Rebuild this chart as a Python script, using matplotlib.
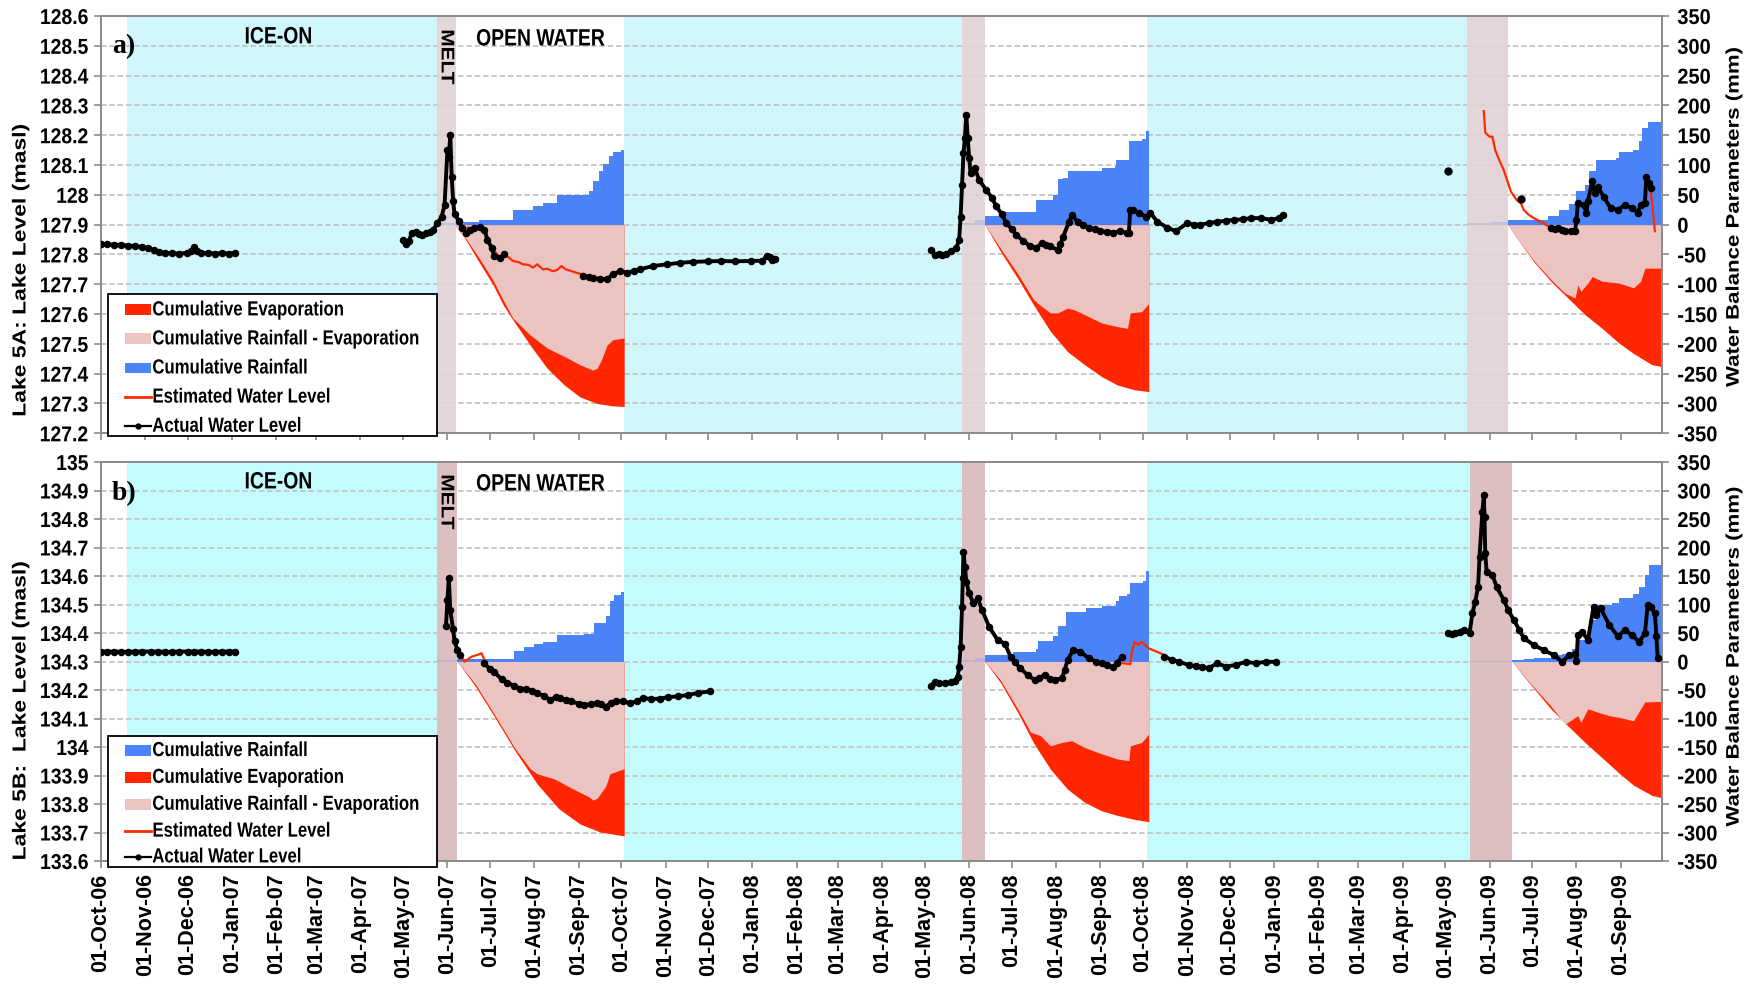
import numpy as np
import pandas as pd
import matplotlib
matplotlib.use("Agg")
import matplotlib.pyplot as plt
import matplotlib.dates as mdates
from matplotlib.patches import Rectangle
from matplotlib.patheffects import AbstractPathEffect
from matplotlib.transforms import Affine2D
from matplotlib.ticker import FixedLocator, FuncFormatter

NAN = float("nan")

# ---------------------------------------------------------------- Lake 5A
# lake level (masl), actual observations
a_level = [
    ("2006-10-01", 127.835), ("2006-10-05", 127.834), ("2006-10-10", 127.833), ("2006-10-15", 127.832),
    ("2006-10-20", 127.830), ("2006-10-25", 127.828), ("2006-10-30", 127.825), ("2006-11-03", 127.820),
    ("2006-11-07", 127.815), ("2006-11-11", 127.808), ("2006-11-15", 127.805), ("2006-11-20", 127.804),
    ("2006-11-25", 127.803), ("2006-11-30", 127.805), ("2006-12-03", 127.812), ("2006-12-05", 127.825),
    ("2006-12-07", 127.810), ("2006-12-10", 127.804), ("2006-12-15", 127.805), ("2006-12-20", 127.803),
    ("2006-12-25", 127.805), ("2006-12-30", 127.803), ("2007-01-03", 127.805),
    ("2007-02-15", NAN),
    ("2007-05-01", 127.850), ("2007-05-03", 127.834), ("2007-05-05", 127.845), ("2007-05-07", 127.872),
    ("2007-05-10", 127.877), ("2007-05-12", 127.870), ("2007-05-14", 127.866), ("2007-05-17", 127.872),
    ("2007-05-20", 127.876), ("2007-05-22", 127.883), ("2007-05-25", 127.905), ("2007-05-28", 127.927),
    ("2007-05-30", 127.966), ("2007-06-01", 128.150), ("2007-06-02", 128.127), ("2007-06-03", 128.200),
    ("2007-06-04", 128.060), ("2007-06-05", 127.980), ("2007-06-06", 127.935), ("2007-06-09", 127.913),
    ("2007-06-11", 127.890), ("2007-06-14", 127.872), ("2007-06-17", 127.883), ("2007-06-20", 127.888),
    ("2007-06-24", 127.893), ("2007-06-27", 127.883), ("2007-06-29", 127.850), ("2007-07-02", 127.822),
    ("2007-07-04", 127.794), ("2007-07-08", 127.789), ("2007-07-11", 127.800),
    ("2007-08-01", NAN),
    ("2007-09-04", 127.728), ("2007-09-08", 127.724), ("2007-09-11", 127.720), ("2007-09-16", 127.718),
    ("2007-09-21", 127.717), ("2007-09-25", 127.733), ("2007-09-30", 127.744), ("2007-10-05", 127.739),
    ("2007-10-10", 127.745), ("2007-10-14", 127.750), ("2007-10-23", 127.761), ("2007-11-02", 127.767),
    ("2007-11-11", 127.772), ("2007-11-20", 127.775), ("2007-12-01", 127.777), ("2007-12-10", 127.778),
    ("2007-12-20", 127.777), ("2007-12-31", 127.778), ("2008-01-08", 127.779), ("2008-01-11", 127.795),
    ("2008-01-13", 127.790), ("2008-01-15", 127.782), ("2008-01-17", 127.785),
    ("2008-03-01", NAN),
    ("2008-05-05", 127.815), ("2008-05-08", 127.798), ("2008-05-11", 127.800), ("2008-05-13", 127.798),
    ("2008-05-16", 127.803), ("2008-05-19", 127.810), ("2008-05-23", 127.822), ("2008-05-25", 127.850),
    ("2008-05-26", 127.927), ("2008-05-27", 128.033), ("2008-05-28", 128.139), ("2008-05-29", 128.190),
    ("2008-05-30", 128.268), ("2008-05-31", 128.190), ("2008-06-01", 128.122), ("2008-06-02", 128.072),
    ("2008-06-05", 128.089), ("2008-06-08", 128.050), ("2008-06-13", 128.016), ("2008-06-17", 127.990),
    ("2008-06-20", 127.961), ("2008-06-24", 127.935), ("2008-06-27", 127.905), ("2008-07-01", 127.885),
    ("2008-07-04", 127.866), ("2008-07-09", 127.845), ("2008-07-14", 127.827), ("2008-07-18", 127.822),
    ("2008-07-22", 127.839), ("2008-07-25", 127.832), ("2008-07-28", 127.827), ("2008-08-02", 127.815),
    ("2008-08-04", 127.835), ("2008-08-06", 127.860), ("2008-08-10", 127.910), ("2008-08-12", 127.932),
    ("2008-08-16", 127.910), ("2008-08-20", 127.898), ("2008-08-24", 127.890), ("2008-08-28", 127.884),
    ("2008-09-01", 127.878), ("2008-09-06", 127.876), ("2008-09-10", 127.873), ("2008-09-15", 127.878),
    ("2008-09-20", 127.872), ("2008-09-21", 127.872), ("2008-09-22", 127.950), ("2008-09-24", 127.950),
    ("2008-09-28", 127.940), ("2008-10-03", 127.927), ("2008-10-06", 127.940), ("2008-10-11", 127.910),
    ("2008-10-18", 127.890), ("2008-10-24", 127.878), ("2008-11-01", 127.905), ("2008-11-06", 127.900),
    ("2008-11-10", 127.900), ("2008-11-16", 127.905), ("2008-11-22", 127.910), ("2008-11-28", 127.913),
    ("2008-12-04", 127.916), ("2008-12-10", 127.918), ("2008-12-16", 127.922), ("2008-12-23", 127.922),
    ("2008-12-30", 127.916), ("2009-01-04", 127.922), ("2009-01-07", 127.932),
    ("2009-03-01", NAN),
    ("2009-07-14", 127.888), ("2009-07-17", 127.885), ("2009-07-19", 127.888), ("2009-07-22", 127.882),
    ("2009-07-24", 127.878), ("2009-07-28", 127.878), ("2009-07-31", 127.878), ("2009-08-01", 127.916),
    ("2009-08-02", 127.972), ("2009-08-06", 127.967), ("2009-08-08", 127.940), ("2009-08-09", 127.978),
    ("2009-08-12", 128.045), ("2009-08-14", 128.005), ("2009-08-16", 128.027), ("2009-08-20", 127.994),
    ("2009-08-25", 127.955), ("2009-08-30", 127.950), ("2009-09-04", 127.966), ("2009-09-09", 127.955),
    ("2009-09-13", 127.940), ("2009-09-15", 127.966), ("2009-09-18", 127.972), ("2009-09-19", 128.060),
    ("2009-09-21", 128.039), ("2009-09-22", 128.022),
]
# isolated single readings
a_level_single = [("2009-05-03", 128.081), ("2009-06-23", 127.986)]

# lake level (masl), estimated from the water balance
a_est = [
    ("2007-05-25", 127.905), ("2007-05-28", 127.927), ("2007-05-30", 127.966), ("2007-06-01", 128.150),
    ("2007-06-02", 128.127), ("2007-06-03", 128.200), ("2007-06-04", 128.060), ("2007-06-05", 127.980),
    ("2007-06-06", 127.935), ("2007-06-11", 127.890), ("2007-06-20", 127.888), ("2007-06-27", 127.883),
    ("2007-07-02", 127.822), ("2007-07-08", 127.789), ("2007-07-11", 127.800), ("2007-07-14", 127.790),
    ("2007-07-17", 127.778), ("2007-07-21", 127.774), ("2007-07-24", 127.767), ("2007-07-28", 127.765),
    ("2007-07-31", 127.756), ("2007-08-03", 127.767), ("2007-08-07", 127.750), ("2007-08-10", 127.752),
    ("2007-08-14", 127.744), ("2007-08-17", 127.748), ("2007-08-20", 127.761), ("2007-08-23", 127.750),
    ("2007-08-27", 127.744), ("2007-08-31", 127.738), ("2007-09-04", 127.733),
    ("2008-01-01", NAN),
    ("2008-05-25", 127.850), ("2008-05-26", 127.927), ("2008-05-27", 128.033), ("2008-05-28", 128.139),
    ("2008-05-29", 128.190), ("2008-05-30", 128.268), ("2008-05-31", 128.190), ("2008-06-01", 128.122),
    ("2008-06-02", 128.072),
    ("2008-07-01", NAN),
    ("2008-08-02", 127.815), ("2008-08-04", 127.835), ("2008-08-06", 127.860), ("2008-08-10", 127.910),
    ("2008-08-12", 127.932),
    ("2008-09-01", NAN),
    ("2008-09-20", 127.872), ("2008-09-21", 127.872), ("2008-09-22", 127.950),
    ("2009-01-01", NAN),
    ("2009-05-28", 128.281), ("2009-05-29", 128.209), ("2009-06-01", 128.195), ("2009-06-03", 128.195),
    ("2009-06-05", 128.150), ("2009-06-08", 128.115), ("2009-06-11", 128.083), ("2009-06-16", 128.011),
    ("2009-06-20", 127.983), ("2009-06-23", 127.972), ("2009-06-25", 127.950), ("2009-06-28", 127.935),
    ("2009-07-02", 127.922), ("2009-07-09", 127.905), ("2009-07-14", 127.888),
    ("2009-07-25", NAN),
    ("2009-07-31", 127.878), ("2009-08-01", 127.916), ("2009-08-02", 127.972),
    ("2009-08-20", NAN),
    ("2009-09-21", 128.039), ("2009-09-22", 128.022), ("2009-09-25", 127.878),
]

# cumulative rainfall (mm), one list per open-water season
a_rain = [
    [("2007-05-25", 3), ("2007-06-08", 4), ("2007-06-23", 8), ("2007-07-17", 24), ("2007-07-31", 31),
     ("2007-08-07", 36), ("2007-08-17", 50), ("2007-09-08", 56), ("2007-09-11", 73), ("2007-09-15", 90),
     ("2007-09-18", 101), ("2007-09-22", 115), ("2007-09-25", 122), ("2007-10-01", 126), ("2007-10-03", 126)],
    [("2008-05-27", 3), ("2008-06-05", 8), ("2008-06-12", 14), ("2008-06-26", 21), ("2008-07-18", 42),
     ("2008-07-30", 50), ("2008-08-02", 76), ("2008-08-06", 78), ("2008-08-09", 90), ("2008-09-02", 95),
     ("2008-09-11", 98), ("2008-09-12", 109), ("2008-09-21", 140), ("2008-09-30", 143), ("2008-10-03", 157),
     ("2008-10-05", 165)],
    [("2009-05-16", 3), ("2009-06-01", 5), ("2009-06-14", 7), ("2009-07-12", 14), ("2009-07-20", 25),
     ("2009-07-27", 34), ("2009-08-01", 56), ("2009-08-07", 67), ("2009-08-10", 90), ("2009-08-15", 108),
     ("2009-08-29", 112), ("2009-08-31", 122), ("2009-09-10", 126), ("2009-09-14", 140), ("2009-09-16", 162),
     ("2009-09-20", 173), ("2009-09-30", 178)],
]
# cumulative evaporation (mm, plotted negative)
a_evap = [
    [("2007-06-06", 0), ("2007-06-13", -22), ("2007-06-23", -62), ("2007-07-03", -101), ("2007-07-10", -134),
     ("2007-07-17", -160), ("2007-07-29", -202), ("2007-08-10", -241), ("2007-08-22", -269),
     ("2007-09-02", -289), ("2007-09-14", -300), ("2007-09-25", -304), ("2007-10-03", -305)],
    [("2008-06-12", 0), ("2008-06-23", -45), ("2008-07-05", -90), ("2008-07-16", -134), ("2008-07-28", -179),
     ("2008-08-09", -213), ("2008-08-21", -235), ("2008-09-02", -255), ("2008-09-13", -269),
     ("2008-09-25", -277), ("2008-10-05", -280)],
    [("2009-06-14", 0), ("2009-06-20", -22), ("2009-07-02", -62), ("2009-07-14", -95), ("2009-07-26", -123),
     ("2009-08-07", -151), ("2009-08-19", -174), ("2009-08-31", -199), ("2009-09-10", -216),
     ("2009-09-23", -235), ("2009-09-30", -238)],
]
# cumulative rainfall - evaporation (mm)
a_balance = [
    [("2007-06-06", 0), ("2007-06-13", -20), ("2007-06-23", -55), ("2007-07-03", -93), ("2007-07-10", -126),
     ("2007-07-17", -157), ("2007-07-29", -185), ("2007-08-10", -207), ("2007-08-22", -221),
     ("2007-09-02", -235), ("2007-09-11", -244), ("2007-09-14", -241), ("2007-09-17", -227),
     ("2007-09-21", -202), ("2007-09-25", -193), ("2007-10-03", -190)],
    [("2008-06-12", 0), ("2008-06-23", -40), ("2008-07-05", -82), ("2008-07-16", -125), ("2008-07-19", -132),
     ("2008-07-28", -148), ("2008-08-02", -148), ("2008-08-09", -140), ("2008-08-14", -143),
     ("2008-08-21", -151), ("2008-09-02", -165), ("2008-09-13", -171), ("2008-09-20", -174),
     ("2008-09-22", -148), ("2008-09-30", -146), ("2008-10-05", -132)],
    [("2009-06-14", 0), ("2009-06-20", -22), ("2009-07-02", -60), ("2009-07-14", -92), ("2009-07-24", -115),
     ("2009-07-31", -123), ("2009-08-02", -101), ("2009-08-04", -112), ("2009-08-09", -98),
     ("2009-08-12", -87), ("2009-08-19", -95), ("2009-08-31", -98), ("2009-09-10", -106),
     ("2009-09-15", -95), ("2009-09-18", -73), ("2009-09-30", -73)],
]
a_ice_on = [("2006-10-19", "2007-05-25"), ("2007-10-03", "2008-05-27"), ("2008-10-04", "2009-05-16")]
a_melt = [("2007-05-25", "2007-06-07"), ("2008-05-27", "2008-06-12"), ("2009-05-16", "2009-06-14")]

# ---------------------------------------------------------------- Lake 5B
b_level = [
    ("2006-10-01", 134.335), ("2006-10-05", 134.335), ("2006-10-10", 134.335), ("2006-10-15", 134.334),
    ("2006-10-20", 134.334), ("2006-10-25", 134.335), ("2006-10-30", 134.335), ("2006-11-05", 134.335),
    ("2006-11-10", 134.335), ("2006-11-15", 134.334), ("2006-11-20", 134.334), ("2006-11-25", 134.335),
    ("2006-12-01", 134.335), ("2006-12-05", 134.335), ("2006-12-10", 134.335), ("2006-12-15", 134.334),
    ("2006-12-20", 134.334), ("2006-12-25", 134.335), ("2006-12-30", 134.335), ("2007-01-03", 134.335),
    ("2007-03-01", NAN),
    ("2007-05-31", 134.425), ("2007-06-01", 134.515), ("2007-06-02", 134.593), ("2007-06-03", 134.479),
    ("2007-06-05", 134.413), ("2007-06-06", 134.371), ("2007-06-08", 134.341), ("2007-06-10", 134.323),
    ("2007-06-18", NAN),
    ("2007-06-27", 134.293), ("2007-07-01", 134.272), ("2007-07-04", 134.262), ("2007-07-09", 134.238),
    ("2007-07-13", 134.226), ("2007-07-18", 134.214), ("2007-07-22", 134.205), ("2007-07-26", 134.202),
    ("2007-07-30", 134.198), ("2007-08-03", 134.190), ("2007-08-08", 134.178), ("2007-08-12", 134.166),
    ("2007-08-16", 134.175), ("2007-08-19", 134.172), ("2007-08-23", 134.165), ("2007-08-27", 134.160),
    ("2007-09-01", 134.152), ("2007-09-05", 134.148), ("2007-09-10", 134.150), ("2007-09-14", 134.154),
    ("2007-09-17", 134.150), ("2007-09-20", 134.142), ("2007-09-24", 134.155), ("2007-09-27", 134.160),
    ("2007-10-02", 134.160), ("2007-10-07", 134.154), ("2007-10-12", 134.160), ("2007-10-16", 134.172),
    ("2007-10-22", 134.168), ("2007-10-28", 134.170), ("2007-11-03", 134.175), ("2007-11-10", 134.178),
    ("2007-11-17", 134.183), ("2007-11-24", 134.190), ("2007-12-02", 134.195),
    ("2008-02-01", NAN),
    ("2008-05-05", 134.214), ("2008-05-08", 134.229), ("2008-05-11", 134.225), ("2008-05-15", 134.223),
    ("2008-05-19", 134.228), ("2008-05-22", 134.233), ("2008-05-24", 134.247), ("2008-05-25", 134.282),
    ("2008-05-26", 134.352), ("2008-05-27", 134.492), ("2008-05-27 12:00", 134.592), ("2008-05-28", 134.685),
    ("2008-05-29", 134.633), ("2008-05-30", 134.580), ("2008-06-01", 134.539), ("2008-06-04", 134.504),
    ("2008-06-07", 134.522), ("2008-06-10", 134.481), ("2008-06-15", 134.422), ("2008-06-21", 134.375),
    ("2008-06-26", 134.363), ("2008-06-30", 134.317), ("2008-07-03", 134.298), ("2008-07-07", 134.276),
    ("2008-07-12", 134.252), ("2008-07-17", 134.235), ("2008-07-20", 134.242), ("2008-07-24", 134.253),
    ("2008-07-28", 134.240), ("2008-07-31", 134.235), ("2008-08-05", 134.241), ("2008-08-07", 134.270),
    ("2008-08-09", 134.305), ("2008-08-13", 134.340), ("2008-08-18", 134.334), ("2008-08-24", 134.311),
    ("2008-08-29", 134.300), ("2008-09-02", 134.294), ("2008-09-06", 134.287), ("2008-09-10", 134.280),
    ("2008-09-13", 134.294), ("2008-09-16", 134.317),
    ("2008-09-30", NAN),
    ("2008-10-16", 134.317), ("2008-10-21", 134.306), ("2008-10-26", 134.299), ("2008-11-02", 134.288),
    ("2008-11-07", 134.284), ("2008-11-11", 134.282), ("2008-11-16", 134.276), ("2008-11-22", 134.294),
    ("2008-11-28", 134.282), ("2008-12-05", 134.288), ("2008-12-12", 134.299), ("2008-12-19", 134.294),
    ("2008-12-26", 134.299), ("2009-01-02", 134.299),
    ("2009-03-01", NAN),
    ("2009-05-03", 134.401), ("2009-05-06", 134.396), ("2009-05-08", 134.400), ("2009-05-11", 134.404),
    ("2009-05-14", 134.410), ("2009-05-18", 134.399), ("2009-05-20", 134.469), ("2009-05-22", 134.510),
    ("2009-05-24", 134.562), ("2009-05-25", 134.668), ("2009-05-27", 134.826), ("2009-05-28", 134.884),
    ("2009-05-28 12:00", 134.808), ("2009-05-29", 134.680), ("2009-05-30", 134.615), ("2009-06-03", 134.604),
    ("2009-06-06", 134.562), ("2009-06-11", 134.516), ("2009-06-14", 134.482), ("2009-06-18", 134.446),
    ("2009-06-22", 134.410), ("2009-06-25", 134.382), ("2009-07-02", 134.358), ("2009-07-09", 134.340),
    ("2009-07-16", 134.323), ("2009-07-22", 134.299), ("2009-07-27", 134.323), ("2009-07-31", 134.326),
    ("2009-08-01", 134.303), ("2009-08-02", 134.392), ("2009-08-05", 134.404), ("2009-08-09", 134.375),
    ("2009-08-13", 134.492), ("2009-08-15", 134.463), ("2009-08-18", 134.487), ("2009-08-24", 134.428),
    ("2009-08-30", 134.389), ("2009-09-04", 134.410), ("2009-09-09", 134.392), ("2009-09-14", 134.369),
    ("2009-09-18", 134.399), ("2009-09-20", 134.498), ("2009-09-22", 134.492), ("2009-09-25", 134.469),
    ("2009-09-26", 134.389), ("2009-09-27", 134.313),
]
b_level_single = []

b_est = [
    ("2007-06-10", 134.323), ("2007-06-13", 134.299), ("2007-06-16", 134.310), ("2007-06-18", 134.317),
    ("2007-06-22", 134.323), ("2007-06-25", 134.329), ("2007-06-27", 134.305),
    ("2008-01-01", NAN),
    ("2008-09-13", 134.294), ("2008-09-17", 134.294), ("2008-09-22", 134.291), ("2008-09-23", 134.329),
    ("2008-09-25", 134.369), ("2008-09-28", 134.358), ("2008-09-30", 134.369), ("2008-10-05", 134.346),
    ("2008-10-16", 134.323),
    ("2009-01-01", NAN),
    ("2009-05-18", 134.399), ("2009-05-20", 134.469), ("2009-05-22", 134.510), ("2009-05-24", 134.562),
    ("2009-05-25", 134.668), ("2009-05-27", 134.826), ("2009-05-28", 134.884), ("2009-05-29", 134.680),
    ("2009-05-30", 134.615),
    ("2009-07-01", NAN),
    ("2009-07-31", 134.326), ("2009-08-01", 134.303), ("2009-08-02", 134.392),
    ("2009-08-20", NAN),
    ("2009-09-18", 134.399), ("2009-09-20", 134.498),
    ("2009-09-23", NAN),
    ("2009-09-25", 134.469), ("2009-09-26", 134.389), ("2009-09-27", 134.313),
]

b_rain = [
    [("2007-05-25", 2), ("2007-06-08", 4), ("2007-07-18", 19), ("2007-07-25", 26), ("2007-08-01", 31),
     ("2007-08-07", 34), ("2007-08-17", 46), ("2007-09-05", 49), ("2007-09-12", 67), ("2007-09-20", 79),
     ("2007-09-23", 107), ("2007-09-26", 116), ("2007-10-01", 122), ("2007-10-03", 122)],
    [("2008-05-27", 3), ("2008-06-05", 7), ("2008-06-12", 11), ("2008-07-02", 17), ("2008-07-18", 22),
     ("2008-07-19", 36), ("2008-07-30", 45), ("2008-08-02", 62), ("2008-08-08", 86), ("2008-08-22", 93),
     ("2008-09-02", 98), ("2008-09-12", 106), ("2008-09-14", 115), ("2008-09-20", 118), ("2008-09-22", 138),
     ("2008-10-01", 141), ("2008-10-03", 159), ("2008-10-05", 159)],
    [("2009-05-18", 1), ("2009-06-17", 2), ("2009-06-25", 4), ("2009-07-02", 6), ("2009-07-14", 11),
     ("2009-07-22", 14), ("2009-07-29", 22), ("2009-08-01", 37), ("2009-08-07", 46), ("2009-08-10", 73),
     ("2009-08-15", 100), ("2009-08-26", 103), ("2009-08-31", 112), ("2009-09-10", 118), ("2009-09-14", 130),
     ("2009-09-18", 151), ("2009-09-21", 169), ("2009-09-30", 172)],
]
b_evap = [
    [("2007-06-08", 0), ("2007-06-21", -45), ("2007-07-05", -101), ("2007-07-18", -155), ("2007-08-03", -215),
     ("2007-08-18", -258), ("2007-09-02", -285), ("2007-09-16", -299), ("2007-10-03", -306)],
    [("2008-06-12", 0), ("2008-06-23", -37), ("2008-07-05", -89), ("2008-07-16", -142), ("2008-07-28", -189),
     ("2008-08-09", -224), ("2008-08-21", -247), ("2008-09-02", -262), ("2008-09-13", -270),
     ("2008-09-25", -277), ("2008-10-05", -281)],
    [("2009-06-17", 0), ("2009-06-25", -26), ("2009-07-02", -47), ("2009-07-14", -83), ("2009-07-26", -113),
     ("2009-08-07", -142), ("2009-08-19", -169), ("2009-08-31", -196), ("2009-09-10", -217),
     ("2009-09-23", -235), ("2009-09-30", -239)],
]
b_balance = [
    [("2007-06-08", 0), ("2007-06-21", -41), ("2007-07-05", -97), ("2007-07-18", -151), ("2007-07-29", -188),
     ("2007-08-03", -197), ("2007-08-15", -206), ("2007-08-27", -222), ("2007-09-08", -237),
     ("2007-09-11", -243), ("2007-09-14", -240), ("2007-09-20", -219), ("2007-09-23", -197),
     ("2007-10-03", -188)],
    [("2008-06-12", 0), ("2008-06-23", -33), ("2008-07-05", -83), ("2008-07-14", -124), ("2008-07-21", -130),
     ("2008-07-28", -148), ("2008-08-05", -142), ("2008-08-12", -139), ("2008-08-21", -151),
     ("2008-09-02", -162), ("2008-09-13", -171), ("2008-09-21", -174), ("2008-09-22", -148),
     ("2008-09-30", -142), ("2008-10-05", -127)],
    [("2009-06-17", 0), ("2009-06-25", -25), ("2009-07-02", -45), ("2009-07-14", -78), ("2009-07-24", -110),
     ("2009-08-02", -95), ("2009-08-04", -107), ("2009-08-09", -83), ("2009-08-16", -89),
     ("2009-08-24", -95), ("2009-08-31", -98), ("2009-09-10", -104), ("2009-09-15", -83),
     ("2009-09-18", -71), ("2009-09-30", -70)],
]
b_ice_on = [("2006-10-19", "2007-05-25"), ("2007-10-03", "2008-05-27"), ("2008-10-04", "2009-05-18")]
b_melt = [("2007-05-25", "2007-06-08"), ("2008-05-27", "2008-06-12"), ("2009-05-18", "2009-06-17")]

a_level_ticks = [round(127.2 + 0.1 * i, 1) for i in range(15)]
b_level_ticks = [round(133.6 + 0.1 * i, 1) for i in range(15)]
balance_ticks = list(range(-350, 351, 50))

# ---------------------------------------------------------------- style
BLUE = "#4A82F7"
RED = "#FF2600"
PINK = "#EBC3C1"
EST_RED = "#FF2A00"
GRID = "#C4C4C4"
SPINE = "#8C8C8C"

plt.rcParams["font.family"] = ["Liberation Sans", "DejaVu Sans"]
plt.rcParams["font.weight"] = "bold"


class Squeeze(AbstractPathEffect):
    """Draw text narrower (sx) or thinner (sy) than the font's own metrics."""

    def __init__(self, sx=1.0, sy=1.0, anchor="left"):
        super().__init__()
        self._sx, self._sy, self._anchor = sx, sy, anchor

    def draw_path(self, renderer, gc, tpath, affine, rgbFace=None):
        ext = tpath.get_extents()
        if self._anchor == "left":
            cx = ext.x0
        elif self._anchor == "right":
            cx = ext.x1
        else:
            cx = 0.5 * (ext.x0 + ext.x1)
        cy = 0.5 * (ext.y0 + ext.y1)
        t = Affine2D().translate(-cx, -cy).scale(self._sx, self._sy).translate(cx, cy) + affine
        renderer.draw_path(gc, tpath, t, rgbFace)


def series(pairs):
    dates = pd.to_datetime([p[0] for p in pairs], format="ISO8601")
    return dates, np.array([p[1] for p in pairs], dtype=float)


def level_fmt(v, _):
    s = f"{v:.1f}"
    return s[:-2] if s.endswith(".0") else s


LEGEND_ITEMS = {
    "rain": ("patch", BLUE, "Cumulative Rainfall"),
    "evap": ("patch", RED, "Cumulative Evaporation"),
    "bal": ("patch", PINK, "Cumulative Rainfall - Evaporation"),
    "est": ("line", EST_RED, "Estimated Water Level"),
    "act": ("marker", "black", "Actual Water Level"),
}


def draw_legend(ax, order, box, rows, patch_h):
    x0, y0, x1, y1 = box
    tr = ax.transAxes
    ax.add_patch(Rectangle((x0, y0), x1 - x0, y1 - y0, transform=tr, facecolor="white",
                           edgecolor="black", lw=1.3, clip_on=False, zorder=10))
    hx0, hx1, tx = 0.0156, 0.0318, 0.0328
    for key, y in zip(order, rows):
        kind, color, label = LEGEND_ITEMS[key]
        if kind == "patch":
            ax.add_patch(Rectangle((hx0, y - patch_h / 2), hx1 - hx0, patch_h, transform=tr,
                                   facecolor=color, edgecolor="none", clip_on=False, zorder=11))
        elif kind == "line":
            ax.plot([hx0, hx1], [y, y], transform=tr, color=color, lw=2, clip_on=False, zorder=11)
        else:
            ax.plot([hx0, hx1], [y, y], transform=tr, color=color, lw=1.6, clip_on=False, zorder=11)
            ax.plot([(hx0 + hx1) / 2], [y], transform=tr, color=color, marker="o", ms=3.5,
                    clip_on=False, zorder=11)
        ax.text(tx, y, label, transform=tr, ha="left", va="center", fontsize=14.7,
                fontweight="bold", path_effects=[Squeeze(0.82, 1.0, "left")], zorder=12)


X0, X1 = pd.Timestamp("2006-10-01"), pd.Timestamp("2009-09-30")

fig = plt.figure(figsize=(17.54, 9.85), dpi=100)


def draw_panel(rect, level, level_single, est, rain, evap, balance, ice_on, melt,
               cyan, melt_col, ylim, yticks, ylabel, ylabel_y, rlabel_y, tag, tag_y,
               legend_order, legend_box, legend_rows, patch_h, show_xlabels, text_y, melt_y):
    ax2 = fig.add_axes(rect)                     # water balance (mm), underneath
    ax = fig.add_axes(rect, sharex=ax2)          # lake level (masl), on top
    ax.patch.set_visible(False)
    ax.set_zorder(ax2.get_zorder() + 1)

    ax2.yaxis.tick_right()
    ax2.yaxis.set_label_position("right")
    ax.yaxis.tick_left()

    # seasons
    for s, e in ice_on:
        ax2.axvspan(pd.Timestamp(s), pd.Timestamp(e), color=cyan, lw=0, zorder=0.2)
    for s, e in melt:
        ax2.axvspan(pd.Timestamp(s), pd.Timestamp(e), color=melt_col, lw=0, zorder=0.2)

    # water balance fills
    for seg in rain:
        d, v = series(seg)
        ax2.fill_between(d, 0, v, step="post", color=BLUE, lw=0, zorder=1)
    for seg in evap:
        d, v = series(seg)
        ax2.fill_between(d, 0, v, color=RED, lw=0, zorder=1.1)
    for seg in balance:
        d, v = series(seg)
        ax2.fill_between(d, 0, v, color=PINK, lw=0, zorder=1.2)
    for s, e in melt:
        ax2.axvspan(pd.Timestamp(s), pd.Timestamp(e), color=melt_col, alpha=0.78, lw=0, zorder=1.5)

    ax2.set_ylim(-350, 350)
    ax2.yaxis.set_major_locator(FixedLocator(balance_ticks))
    ax2.yaxis.set_major_formatter(FuncFormatter(lambda v, _: f"{int(v)}"))
    ax2.set_axisbelow(True)
    ax2.yaxis.grid(True, color=GRID, lw=1.3, linestyle=(0, (3, 1.6)))
    ax2.set_ylabel("Water Balance Parameters (mm)", fontsize=16, fontweight="bold")
    ax2.yaxis.set_label_coords(1.0395, rlabel_y)
    ax2.yaxis.label.set_path_effects([Squeeze(1.0, 0.82, "center")])

    # lake levels
    d, v = series(est)
    ax.plot(d, v, color=EST_RED, lw=1.6, zorder=3)
    d, v = series(level)
    ax.plot(d, v, color="black", lw=2.8, marker="o", ms=4.4, zorder=4)
    if level_single:
        d, v = series(level_single)
        ax.plot(d, v, ls="none", color="black", marker="o", ms=5, zorder=4)

    ax.set_ylim(*ylim)
    ax.yaxis.set_major_locator(FixedLocator(yticks))
    ax.yaxis.set_major_formatter(FuncFormatter(level_fmt))
    ax.set_ylabel(ylabel, fontsize=16.5, fontweight="bold")
    ax.yaxis.set_label_coords(-0.0445, ylabel_y)
    ax.yaxis.label.set_path_effects([Squeeze(1.0, 0.82, "center")])
    ax.set_xlim(X0, X1)

    ax.xaxis.set_major_locator(mdates.MonthLocator(bymonthday=1))
    ax.xaxis.set_major_formatter(mdates.DateFormatter("%d-%b-%y"))
    for a in (ax, ax2):
        for sp in a.spines.values():
            sp.set_color(SPINE)
            sp.set_linewidth(1.4)
    ax.tick_params(axis="y", direction="out", length=5, width=1.2, color=SPINE, pad=4, labelsize=15.5)
    ax2.tick_params(axis="y", direction="out", length=5, width=1.2, color=SPINE, pad=6, labelsize=15.5)
    ax.tick_params(axis="x", direction="out", length=5, width=1.2, color=SPINE, pad=4,
                   labelsize=15.5, labelrotation=90, labelbottom=show_xlabels)
    ax2.tick_params(axis="x", bottom=False, labelbottom=False)
    for t in ax.yaxis.get_major_ticks():
        t.label1.set_path_effects([Squeeze(0.9, 1.0, "right")])
    for t in ax2.yaxis.get_major_ticks():
        t.label2.set_path_effects([Squeeze(0.93, 1.0, "left")])

    # season names
    ax.text(0.1137, text_y, "ICE-ON", transform=ax.transAxes, ha="center", va="center",
            fontsize=17, fontweight="bold", path_effects=[Squeeze(0.82, 1.0, "center")], zorder=6)
    ax.text(0.2815, text_y - 0.005, "OPEN WATER", transform=ax.transAxes, ha="center", va="center",
            fontsize=17, fontweight="bold", path_effects=[Squeeze(0.82, 1.0, "center")], zorder=6)
    ax.text(0.2212, melt_y, "MELT", transform=ax.transAxes, ha="center", va="center",
            rotation=-90, fontsize=15, fontweight="bold",
            path_effects=[Squeeze(1.0, 0.88, "center")], zorder=6)
    ax.text(0.007, tag_y, tag, transform=ax.transAxes, ha="left", va="center",
            family=["Liberation Serif", "DejaVu Serif"], fontsize=20, fontweight="bold", zorder=6)

    draw_legend(ax, legend_order, legend_box, legend_rows, patch_h)
    return ax, ax2


LEFT, WIDTH = 101 / 1754, 1561 / 1754

draw_panel([LEFT, 1 - 433.3 / 985, WIDTH, 417.3 / 985],
           a_level, a_level_single, a_est, a_rain, a_evap, a_balance, a_ice_on, a_melt,
           "#CFF7FC", "#E4D5D9", (127.2, 128.6), a_level_ticks,
           "Lake 5A: Lake Level (masl)", 0.39, 0.518, "a)", 0.927,
           ["evap", "bal", "rain", "est", "act"],
           (0.0048, -0.0065, 0.2152, 0.3338), [0.2957, 0.2262, 0.1565, 0.0868, 0.0170], 0.026,
           False, 0.95, 0.902)

draw_panel([LEFT, 1 - 861 / 985, WIDTH, 399 / 985],
           b_level, b_level_single, b_est, b_rain, b_evap, b_balance, b_ice_on, b_melt,
           "#C4FBFC", "#DEBFC1", (133.6, 135.0), b_level_ticks,
           "Lake 5B:  Lake Level (masl)", 0.376, 0.512, "b)", 0.92,
           ["rain", "evap", "bal", "est", "act"],
           (0.0048, -0.015, 0.2152, 0.3133), [0.2767, 0.2095, 0.1421, 0.0749, 0.0103], 0.0275,
           True, 0.95, 0.90)

fig.savefig("out.png", dpi=100)
